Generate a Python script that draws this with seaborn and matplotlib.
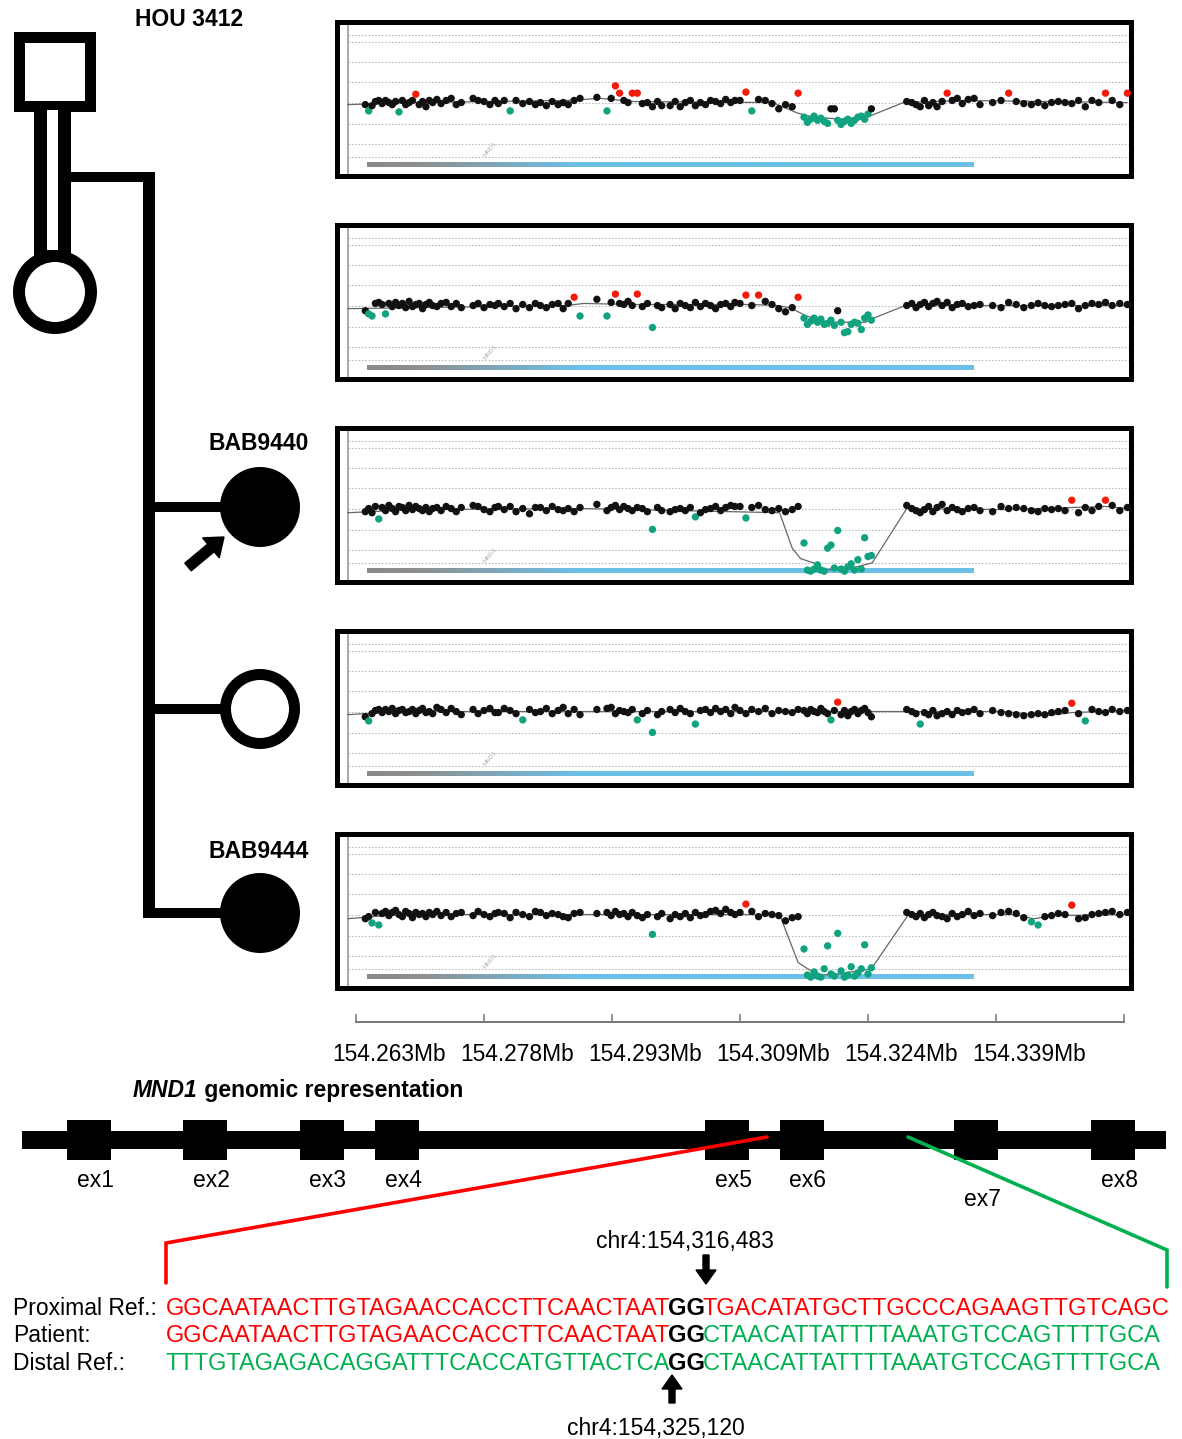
import matplotlib
matplotlib.use("Agg")  # headless rendering
import matplotlib.pyplot as plt
from matplotlib.colors import LinearSegmentedColormap
from matplotlib.patches import Rectangle, Circle, FancyArrow
from matplotlib.transforms import ScaledTranslation
import numpy as np
import pandas as pd
import seaborn as sns

sns.set_style("white")
plt.rcParams["font.family"] = ["Liberation Sans", "DejaVu Sans"]
plt.rcParams["text.color"] = "black"

W, H = 1182, 1439
FS = 16.5
FS_SEQ = 17.0

# ── aCGH data (probe offsets in kb from 154.260 Mb, log2 ratio in plot units) ──
ORIGIN_MB = 154.26
probe_kb = [
    4.1, 4.5, 4.9, 5.3, 5.7, 6.1, 6.5, 6.9, 7.3, 7.7, 8.1, 8.5, 8.9, 9.3, 9.7, 10.1, 10.5, 10.9, 11.3, 11.7, 12.1,
    12.6, 13.1, 13.7, 14.3, 14.9, 15.5,
    16.9, 17.5, 18.2, 18.9, 19.5,
    19.9, 20.6, 21.3, 22.0, 22.8, 23.6, 24.3,
    24.9, 25.6, 26.3, 27.0, 27.6,
    28.2, 28.9, 29.6,
    31.6,
    32.8, 33.3, 33.8, 34.3, 34.8, 35.3, 35.8, 36.4, 37.0, 37.6, 38.2, 38.8, 39.3,
    40.3, 40.9, 41.5, 42.1, 42.7, 43.3, 43.9, 44.5, 45.1, 45.7, 46.3, 46.9, 47.5, 48.0,
    48.6, 49.3, 50.0, 50.8, 51.6, 52.4, 53.2, 54.0, 54.8, 55.5,
    56.2, 56.6, 57.0, 57.4, 57.8, 58.2, 58.6, 59.0, 59.4, 59.8, 60.2, 60.6, 61.0, 61.4, 61.8, 62.2, 62.6, 63.0, 63.4, 63.8, 64.2,
    68.4, 69.0, 69.5, 70.0, 70.5, 71.0, 71.5, 72.0, 72.6, 73.2, 73.8, 74.4, 75.0, 75.7, 76.4, 77.1,
    78.6, 79.6, 80.5, 81.4, 82.3, 83.2, 84.0, 84.8, 85.6, 86.4, 87.2, 88.0, 88.8, 89.6, 90.4, 91.2, 92.0, 92.8, 93.7, 94.6,
]

father = [
    -0.1, -0.4, -0.15, 0.05, 0.1, -0.05, 0.1, 0.0, -0.1, 0.05, -0.45, 0.1, -0.1, 0.0, 0.1, 0.4, -0.1, 0.05, -0.2, 0.1, 0.0,
    0.15, -0.05, 0.1, 0.2, -0.1, 0.0,
    0.2, 0.1, 0.05, -0.1, 0.1,
    -0.05, 0.1, -0.4, 0.1, -0.05, 0.05, -0.1,
    0.0, -0.15, 0.05, -0.1, 0.0,
    -0.1, 0.1, 0.2,
    0.25,
    -0.4, 0.2, 0.8, 0.45, 0.1, 0.0, 0.45, 0.45, -0.05, 0.0, -0.2, 0.05, -0.15,
    -0.15, 0.05, -0.2, 0.0, 0.1, -0.15, 0.0, -0.1, 0.1, 0.05, -0.05, 0.15, 0.0, 0.1,
    0.1, 0.5, -0.4, 0.15, 0.1, -0.05, -0.3, -0.1, -0.2, 0.45,
    -0.7, -0.95, -0.8, -0.65, -0.85, -0.75, -0.9, -1.0, -0.3, -0.3, -0.85, -1.05, -0.9, -0.8, -1.0, -0.85, -0.7, -0.65, -0.8, -0.55, -0.3,
    0.05, 0.0, -0.1, -0.2, 0.1, -0.15, 0.0, -0.2, 0.05, 0.45, 0.1, 0.2, -0.05, 0.15, 0.2, -0.1,
    0.0, 0.1, 0.45, 0.05, -0.05, -0.1, 0.0, -0.15, 0.0, 0.05, 0.0, -0.05, 0.1, -0.2, 0.1, 0.0, 0.45, 0.1, -0.1, 0.45,
]
mother = [
    -0.25, -0.4, -0.5, 0.1, 0.15, 0.05, -0.4, 0.1, -0.05, 0.15, 0.0, 0.1, -0.1, 0.2, -0.05, 0.05, 0.1, -0.15, 0.05, 0.15, 0.0,
    -0.05, 0.1, 0.15, -0.05, 0.1, -0.1,
    0.0, 0.1, -0.1, 0.05, 0.0,
    0.1, -0.05, 0.1, -0.15, 0.05, -0.1, 0.1,
    0.0, -0.1, 0.05, 0.1, -0.15,
    0.1, 0.4, -0.5,
    0.3,
    -0.5, 0.15, 0.55, 0.1, 0.05, 0.2, 0.0, 0.55, -0.05, 0.1, -1.05, 0.0, -0.1,
    0.05, -0.15, 0.1, 0.0, -0.1, 0.15, -0.05, 0.1, 0.0, -0.15, 0.05, 0.1, -0.05, 0.15,
    0.1, 0.5, 0.0, 0.5, 0.2, 0.05, -0.15, -0.3, -0.1, 0.4,
    -0.6, -0.9, -0.75, -0.6, -0.8, -0.65, -0.9, -0.85, -0.7, -0.95, -0.25, -0.8, -1.3, -1.25, -0.9, -0.8, -0.85, -1.15, -0.6, -0.45, -0.7,
    0.0, 0.1, -0.1, 0.05, 0.15, -0.05, 0.1, 0.2, 0.0, 0.15, -0.1, 0.05, 0.1, -0.05, 0.0, 0.05,
    0.0, -0.1, 0.15, 0.05, -0.1, 0.0, 0.1, 0.0, -0.05, 0.0, 0.05, 0.1, -0.15, 0.0, 0.1, 0.05, 0.15, 0.0, 0.1, 0.05,
]
bab9440 = [
    -0.15, 0.0, -0.2, 0.1, -0.5, 0.05, -0.1, 0.15, 0.0, -0.15, 0.1, 0.05, -0.1, 0.15, -0.05, 0.1, 0.0, -0.1, 0.05, -0.15, 0.0,
    0.05, -0.1, 0.1, 0.0, -0.15, 0.05,
    0.15, 0.1, -0.05, -0.15, 0.05,
    0.1, -0.05, 0.1, -0.15, 0.0, -0.25, 0.05,
    0.05, -0.1, 0.1, -0.05, -0.1,
    0.0, -0.15, 0.05,
    0.2,
    -0.1, 0.05, 0.15, -0.05, 0.1, 0.0, -0.1, 0.05, 0.0, -0.15, -1.0, 0.05, -0.1,
    -0.15, -0.05, 0.0, -0.1, 0.05, -0.4, -0.2, -0.05, 0.0, 0.1, -0.1, 0.05, 0.15, 0.1,
    0.1, -0.45, 0.05, 0.15, -0.05, -0.1, 0.0, -0.15, -0.05, 0.1,
    -1.65, -2.95, -3.0, -2.9, -2.7, -2.95, -3.0, -1.9, -1.75, -2.85, -1.05, -2.9, -3.0, -2.8, -2.65, -2.95, -2.45, -2.9, -1.4, -2.3, -2.25,
    0.15, 0.0, -0.1, -0.2, -0.05, 0.1, -0.15, 0.05, 0.2, -0.1, 0.05, -0.05, -0.15, 0.0, 0.05, -0.1,
    -0.15, 0.1, 0.0, 0.05, 0.0, -0.1, -0.15, 0.0, -0.05, 0.0, -0.1, 0.4, -0.2, 0.05, -0.1, 0.1, 0.4, 0.15, -0.1, 0.05,
]
sister = [
    -0.25, -0.45, -0.1, 0.05, 0.1, -0.05, 0.1, 0.0, 0.15, -0.1, 0.05, 0.1, -0.05, 0.0, 0.1, -0.1, 0.05, 0.15, -0.05, 0.0, -0.1,
    0.2, 0.1, -0.05, 0.15, 0.0, -0.15,
    0.1, -0.1, 0.05, 0.15, -0.05,
    -0.05, 0.15, 0.05, -0.1, -0.4, 0.1, -0.05,
    0.0, 0.15, -0.1, 0.05, 0.2,
    -0.1, 0.1, -0.15,
    0.1,
    0.15, 0.2, -0.1, 0.05, 0.0, -0.05, 0.1, -0.4, -0.1, 0.05, -1.0, -0.15, 0.0,
    0.1, -0.05, 0.15, 0.0, -0.1, -0.6, 0.05, 0.1, -0.05, 0.15, 0.0, 0.1, -0.1, 0.2,
    0.05, -0.1, 0.1, 0.0, 0.15, -0.1, 0.05, 0.0, -0.05, 0.1,
    0.05, -0.1, 0.1, 0.0, -0.05, 0.15, 0.0, -0.1, -0.4, 0.05, 0.45, -0.15, 0.05, -0.2, 0.0, 0.1, -0.1, 0.05, 0.15, -0.05, -0.25,
    0.1, 0.0, -0.1, -0.6, -0.05, -0.15, 0.05, -0.2, -0.1, 0.0, -0.15, 0.05, -0.05, 0.0, 0.1, -0.1,
    0.05, -0.05, -0.1, -0.15, -0.2, -0.15, -0.1, -0.15, -0.05, 0.0, 0.05, 0.4, -0.1, -0.45, 0.1, 0.0, -0.05, 0.1, 0.0, 0.05,
]
bab9444 = [
    -0.2, -0.1, -0.4, 0.1, -0.5, 0.05, 0.15, -0.05, 0.1, 0.2, 0.0, -0.1, 0.15, 0.05, -0.15, 0.1, 0.0, 0.05, -0.1, 0.1, 0.0,
    0.15, -0.05, 0.1, -0.1, 0.05, 0.1,
    -0.05, 0.15, 0.0, -0.1, 0.05,
    0.1, 0.05, -0.15, 0.1, 0.0, -0.1, 0.15,
    0.1, -0.05, 0.05, 0.0, -0.1,
    -0.15, 0.05, 0.1,
    0.05,
    0.1, -0.05, 0.15, 0.0, 0.05, -0.1, 0.1, -0.05, -0.15, 0.0, -0.95, -0.1, 0.05,
    -0.2, 0.0, -0.1, 0.05, -0.15, 0.1, -0.05, 0.0, 0.15, 0.2, 0.05, 0.25, 0.1, 0.0,
    0.1, 0.5, 0.15, -0.1, 0.05, 0.0, -0.05, -0.3, -0.15, -0.1,
    -1.65, -2.9, -3.0, -2.75, -2.95, -3.0, -2.6, -1.5, -2.85, -2.95, -0.9, -2.7, -3.0, -2.9, -2.5, -2.95, -2.8, -2.6, -1.45, -2.85, -2.55,
    0.1, 0.0, -0.1, 0.05, -0.15, 0.0, 0.1, -0.05, -0.1, -0.2, 0.05, -0.1, 0.0, 0.15, -0.05, 0.05,
    -0.05, 0.1, 0.15, 0.05, -0.15, -0.35, -0.5, -0.1, -0.05, 0.05, 0.0, 0.45, -0.2, -0.15, 0.0, 0.05, 0.1, 0.15, 0.0, 0.1,
]
samples = [father, mother, bab9440, sister, bab9444]

# segmentation line per sample: (kb, mean)
seg_kb = [
    [2.0, 10, 28, 32, 36, 52.5, 55.4, 57.3, 60.8, 64.0, 68.0, 75, 94.6],
    [2.0, 28, 30, 36, 50, 53, 54.5, 56.5, 59.0, 63.5, 64.5, 68.2, 94.6],
    [2.0, 10, 30, 53.3, 54.8, 55.8, 57.3, 58.8, 60.4, 62.4, 64.3, 68.4, 80, 92, 94.6],
    [2.0, 8, 80, 85, 88, 94.6],
    [2.0, 8, 53.3, 55.5, 57.8, 60.2, 64.2, 68.6, 81, 83.5, 86, 94.6],
]
seg_val = [
    [-0.1, 0.0, 0.1, 0.2, 0.05, 0.0, -0.5, -0.7, -0.8, -0.65, 0.0, 0.1, 0.0],
    [-0.15, 0.0, 0.1, 0.05, 0.05, 0.0, -0.1, -0.5, -0.8, -0.8, -0.6, 0.0, 0.0],
    [-0.2, -0.05, 0.0, -0.2, -1.9, -2.4, -2.6, -2.95, -2.9, -2.8, -2.6, 0.0, -0.05, 0.1, 0.0],
    [-0.15, 0.0, 0.0, -0.2, -0.05, 0.05],
    [-0.2, 0.0, 0.0, -2.3, -2.9, -2.85, -2.6, 0.0, 0.0, -0.2, -0.05, 0.0],
]
gene_bar_kb = (4.3, 76.3)
gain_cut, loss_cut = 0.33, -0.33

tick_mb = [154.263, 154.2782, 154.2934, 154.3086, 154.3238, 154.339, 154.3542]
tick_labels = ["154.263Mb", "154.278Mb", "154.293Mb", "154.309Mb", "154.324Mb", "154.339Mb", ""]
xlim_mb = (ORIGIN_MB + 0.74 / 1000, ORIGIN_MB + 95.03 / 1000)

# ── sequences at the junction ──
prox = ("GGCAATAACTTGTAGAACCACCTTCAACTAAT", "GG", "TGACATATGCTTGCCCAGAAGTTGTCAGC")
pat = ("GGCAATAACTTGTAGAACCACCTTCAACTAAT", "GG", "CTAACATTATTTTAAATGTCCAGTTTTGCA")
dist = ("TTTGTAGAGACAGGATTTCACCATGTTACTCA", "GG", "CTAACATTATTTTAAATGTCCAGTTTTGCA")
exon_names = ["ex1", "ex2", "ex3", "ex4", "ex5", "ex6", "ex7", "ex8"]
exon_x = [89, 205, 322, 397, 727, 802, 976, 1113]

RED, GREEN = "#FF0000", "#00B050"
PT_COLORS = {"normal": "#111111", "gain": "#F51B0B", "loss": "#11A37F"}

fig = plt.figure(figsize=(W / 100, H / 100), dpi=100)
fig.patch.set_facecolor("white")

# canvas in pixel units for pedigree, gene model and sequence
cv = fig.add_axes([0, 0, 1, 1], zorder=0)
cv.set_xlim(0, W)
cv.set_ylim(H, 0)
cv.axis("off")
renderer = fig.canvas.get_renderer()

# pedigree
blk = dict(fc="black", ec="none")
cv.add_patch(Rectangle((14, 32), 82, 80, **blk))
cv.add_patch(Rectangle((25, 43), 60, 58, fc="white", ec="none"))
cv.add_patch(Rectangle((34, 110), 37, 150, **blk))
cv.add_patch(Rectangle((47, 110), 11, 140, fc="white", ec="none"))
cv.add_patch(Circle((55, 292), 42, **blk))
cv.add_patch(Circle((55, 292), 30, fc="white", ec="none"))
cv.add_patch(Rectangle((71, 172), 84, 10, **blk))
cv.add_patch(Rectangle((143, 172), 12, 746, **blk))
for cy, filled in [(507, True), (709, False), (913, True)]:
    cv.add_patch(Rectangle((143, cy - 5), 80, 10, **blk))
    cv.add_patch(Circle((260, cy), 40, **blk))
    if not filled:
        cv.add_patch(Circle((260, cy), 29, fc="white", ec="none"))
cv.add_patch(FancyArrow(188, 567, 36, -30, width=10, head_width=26, head_length=17,
                        length_includes_head=True, color="black"))
cv.text(135, 20, "HOU 3412", fontsize=FS, fontweight="bold", va="center")
cv.text(209, 443, "BAB9440", fontsize=FS, fontweight="bold", va="center")
cv.text(209, 852, "BAB9444", fontsize=FS, fontweight="bold", va="center")


def run_text(x, y, pieces, size, squeeze=0.0):
    for s, color, weight, style in pieces:
        t = cv.text(x, y, s, color=color, fontweight=weight, fontstyle=style,
                    fontsize=size, va="baseline", ha="left")
        x += t.get_window_extent(renderer).width - squeeze


# gene model
run_text(133, 1097, [("MND1", "black", "bold", "italic"),
                     (" genomic representation", "black", "bold", "normal")], FS)
cv.add_patch(Rectangle((22, 1131), 1144, 18, **blk))
for name, ex in zip(exon_names, exon_x):
    cv.add_patch(Rectangle((ex - 22, 1120), 44, 40, **blk))
    cv.text(ex + 6, 1206 if name == "ex7" else 1187, name, fontsize=FS, ha="center", va="baseline")
cv.plot([767, 166, 166], [1137, 1243, 1283], color=RED, lw=2.6, solid_joinstyle="miter")
cv.plot([908, 1167, 1167], [1137, 1250, 1287], color=GREEN, lw=2.6, solid_joinstyle="miter")

# junction sequences
for label, seq, base, c1, c2 in [("Proximal Ref.:", prox, 1315, RED, RED),
                                 ("Patient:", pat, 1342, RED, GREEN),
                                 ("Distal Ref.:", dist, 1370, GREEN, GREEN)]:
    cv.text(13, base, label, fontsize=FS, va="baseline")
    run_text(166, base, [(seq[0], c1, "normal", "normal"), (seq[1], "black", "bold", "normal"),
                         (seq[2], c2, "normal", "normal")], FS_SEQ, squeeze=2.5)
cv.text(685, 1248, "chr4:154,316,483", fontsize=FS, ha="center", va="baseline")
cv.add_patch(FancyArrow(706, 1255, 0, 29, width=6, head_width=20, head_length=14,
                        length_includes_head=True, color="black"))
cv.text(656, 1435, "chr4:154,325,120", fontsize=FS, ha="center", va="baseline")
cv.add_patch(FancyArrow(672, 1403, 0, -28, width=6, head_width=20, head_length=14,
                        length_includes_head=True, color="black"))

# aCGH panels
bar_cmap = LinearSegmentedColormap.from_list(
    "bar", [(0, "#8a8a8a"), (0.08, "#8e8e8e"), (0.35, "#6cc0e8"), (1, "#6cc0e8")])
grid_levels = [3.25, 2.9, 1.95, 1.0, 0.0, -1.05, -2.0, -2.62]
panel_tops = [22, 225, 428, 631, 834]
PANEL_H = 154
left_axis_mb = ORIGIN_MB + 2.05 / 1000
pos_mb = [ORIGIN_MB + k / 1000 for k in probe_kb]

for vals, skb, sval, top in zip(samples, seg_kb, seg_val, panel_tops):
    assert len(vals) == len(probe_kb)
    df = pd.DataFrame({"pos": pos_mb, "ratio": vals})
    df["call"] = np.where(df["ratio"] >= gain_cut, "gain",
                          np.where(df["ratio"] <= loss_cut, "loss", "normal"))
    ax = fig.add_axes([337 / W, 1 - (top + PANEL_H) / H, 794 / W, PANEL_H / H], zorder=2)
    ax.set_facecolor("white")
    ax.hlines(grid_levels, left_axis_mb, xlim_mb[1], colors="#bdbdbd", lw=0.8,
              linestyles=(0, (1.5, 1.5)), zorder=1)
    ax.axvline(left_axis_mb, color="#9a9a9a", lw=1.2, zorder=1)
    ax.imshow(np.linspace(0, 1, 256)[None, :], cmap=bar_cmap, aspect="auto", zorder=1.5,
              extent=(ORIGIN_MB + gene_bar_kb[0] / 1000, ORIGIN_MB + gene_bar_kb[1] / 1000,
                      -3.07, -2.87))
    ax.text(ORIGIN_MB + 18.9 / 1000, -2.25, "MND1", fontsize=4.5, color="#b0b0b0",
            rotation=50, ha="center", va="center")
    ax.plot([ORIGIN_MB + k / 1000 for k in skb], sval, color="#666666", lw=0.9, zorder=2)
    sns.scatterplot(data=df, x="pos", y="ratio", hue="call", palette=PT_COLORS,
                    s=28, linewidth=0, legend=False, ax=ax, zorder=3)
    ax.set_xlim(*xlim_mb)
    ax.set_ylim(-3.52, 3.86)
    ax.set_xticks([])
    ax.set_yticks([])
    ax.set_xlabel("")
    ax.set_ylabel("")
    for sp in ax.spines.values():
        sp.set_visible(True)
        sp.set_color("black")
        sp.set_linewidth(3.6)

# genomic coordinate axis
tax = fig.add_axes([337 / W, 1 - 1022 / H, 794 / W, 10 / H], zorder=1)
tax.set_facecolor("none")
tax.set_xlim(*xlim_mb)
tax.set_yticks([])
for side in ["top", "left", "right"]:
    tax.spines[side].set_visible(False)
tax.spines["bottom"].set_color("#777777")
tax.spines["bottom"].set_linewidth(1.4)
tax.spines["bottom"].set_bounds(tick_mb[0], tick_mb[-1])
tax.set_xticks(tick_mb)
tax.set_xticklabels(tick_labels)
tax.tick_params(axis="x", bottom=True, direction="in", length=6, width=1.1, color="#777777",
                pad=15, labelsize=16.4, labelcolor="black")
shift = ScaledTranslation(33 / 100, 0, fig.dpi_scale_trans)
for lab in tax.get_xticklabels():
    lab.set_transform(lab.get_transform() + shift)

fig.savefig("out.png", dpi=100)
